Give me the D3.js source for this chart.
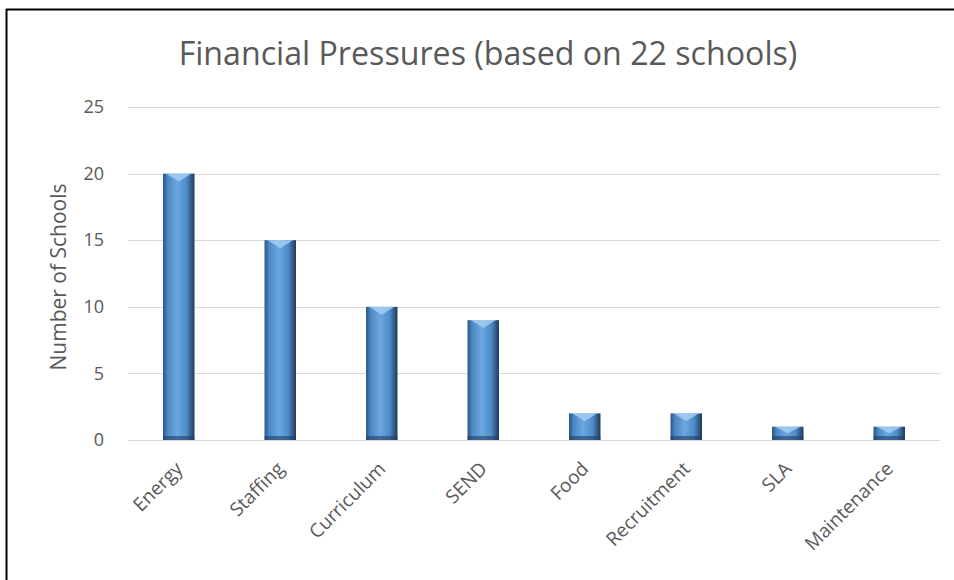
<!DOCTYPE html>
<html>
<head>
<meta charset="utf-8">
<script src="https://cdn.jsdelivr.net/npm/d3@7"></script>
<style>
  body { margin: 0; background: #fff; }
  text { font-family: "Open Sans", sans-serif; fill: #595959; }
</style>
</head>
<body>
<div id="chart"></div>
<script>
var categories = ['Energy', 'Staffing', 'Curriculum', 'SEND', 'Food', 'Recruitment', 'SLA', 'Maintenance'];
var schools = [20, 15, 10, 9, 2, 2, 1, 1];
var yTicks = [0, 5, 10, 15, 20, 25];

var W = 954, H = 580;
var margin = {top: 107, right: 14, bottom: 140, left: 128};
var width = W - margin.left - margin.right;
var height = H - margin.top - margin.bottom;

var svg = d3.select('#chart').append('svg')
  .attr('width', W)
  .attr('height', H);

// shrink/grow a text so it spans a given width
function fitText(sel, target) {
  var fs = parseFloat(sel.style('font-size'));
  var len = sel.node().getComputedTextLength();
  sel.style('font-size', (fs * target / len).toFixed(2) + 'px');
}

// gradient for the cylinder look
var defs = svg.append('defs');
var grad = defs.append('linearGradient')
  .attr('id', 'barGrad')
  .attr('x1', '0%').attr('x2', '100%').attr('y1', '0%').attr('y2', '0%');
grad.append('stop').attr('offset', '0%').attr('stop-color', '#2b5684');
grad.append('stop').attr('offset', '15%').attr('stop-color', '#4d88c4');
grad.append('stop').attr('offset', '45%').attr('stop-color', '#6ba7e0');
grad.append('stop').attr('offset', '75%').attr('stop-color', '#4f8bc8');
grad.append('stop').attr('offset', '100%').attr('stop-color', '#1d3a5c');

// frame lines
svg.append('line')
  .attr('x1', 6).attr('x2', W).attr('y1', 9.5).attr('y2', 9.5)
  .attr('stroke', '#000').attr('stroke-width', 2);
svg.append('line')
  .attr('x1', 6.5).attr('x2', 6.5).attr('y1', 9).attr('y2', H)
  .attr('stroke', '#000').attr('stroke-width', 2);

var g = svg.append('g')
  .attr('transform', 'translate(' + margin.left + ',' + margin.top + ')');

var x = d3.scaleBand()
  .domain(categories)
  .range([0, width])
  .paddingInner(0.69)
  .paddingOuter(0.345);

var y = d3.scaleLinear()
  .domain([0, 25])
  .range([height, 0]);

// grid lines
g.append('g')
  .selectAll('line')
  .data(yTicks)
  .enter().append('line')
  .attr('x1', 0).attr('x2', width)
  .attr('y1', function (d) { return Math.round(y(d)) + 0.5; })
  .attr('y2', function (d) { return Math.round(y(d)) + 0.5; })
  .attr('stroke', '#d9d9d9')
  .attr('stroke-width', 1);

// y axis labels
var yAxis = d3.axisLeft(y).tickValues(yTicks).tickSize(0).tickPadding(24);
g.append('g')
  .call(yAxis)
  .call(function (a) { a.select('.domain').remove(); })
  .selectAll('text')
  .style('font-size', '18px')
  .style('font-family', '"Open Sans", sans-serif')
  .attr('fill', '#595959');

// bars
var bar = g.selectAll('.bar')
  .data(categories)
  .enter().append('g')
  .attr('class', 'bar');

bar.append('rect')
  .attr('x', function (d) { return x(d); })
  .attr('y', function (d, i) { return y(schools[i]); })
  .attr('width', x.bandwidth())
  .attr('height', function (d, i) { return height - y(schools[i]); })
  .attr('fill', 'url(#barGrad)');

// top cap highlight
bar.append('path')
  .attr('d', function (d, i) {
    var x0 = x(d), bw = x.bandwidth(), yt = y(schools[i]);
    var cap = Math.min(8, (height - yt) / 2);
    return 'M' + (x0 + 3) + ',' + yt + 'L' + (x0 + bw - 3) + ',' + yt +
      'L' + (x0 + bw / 2) + ',' + (yt + cap) + 'Z';
  })
  .attr('fill', '#a9d0f5')
  .attr('opacity', 0.8);

// bottom dark band
bar.append('rect')
  .attr('x', function (d) { return x(d); })
  .attr('y', function (d, i) { return height - Math.min(4, (height - y(schools[i])) / 3); })
  .attr('width', x.bandwidth())
  .attr('height', function (d, i) { return Math.min(4, (height - y(schools[i])) / 3); })
  .attr('fill', '#1f3f66')
  .attr('opacity', 0.6);

// x axis labels
g.append('g')
  .selectAll('text')
  .data(categories)
  .enter().append('text')
  .attr('transform', function (d) {
    return 'translate(' + (x(d) + x.bandwidth() / 2 + 5) + ',' + (height + 30) + ') rotate(-45)';
  })
  .attr('text-anchor', 'end')
  .style('font-size', '19px')
  .text(function (d) { return d; });

// axis title
svg.append('text')
  .attr('transform', 'translate(66,277) rotate(-90)')
  .attr('text-anchor', 'middle')
  .style('font-size', '21px')
  .text('Number of Schools');

// chart title
var title = svg.append('text')
  .attr('x', 488)
  .attr('y', 65)
  .attr('text-anchor', 'middle')
  .style('font-size', '30px')
  .text('Financial Pressures (based on 22 schools)');
fitText(title, 619);
</script>
</body>
</html>
